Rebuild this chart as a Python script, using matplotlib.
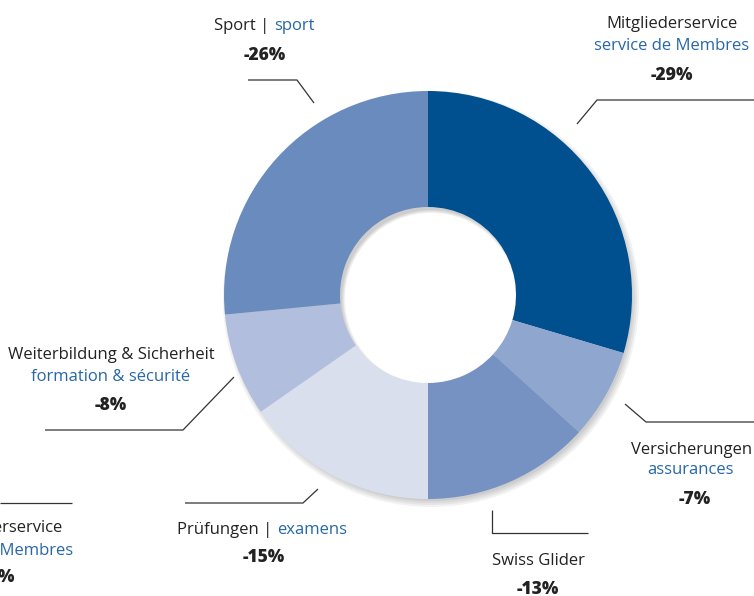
import matplotlib.pyplot as plt
from matplotlib.patches import Wedge

plt.rcParams['font.family'] = ['Open Sans', 'DejaVu Sans']

# data
labels_de = ["Mitgliederservice", "Versicherungen", "Swiss Glider", "Prüfungen", "Weiterbildung & Sicherheit", "Sport"]
labels_fr = ["service de Membres", "assurances", "", "examens", "formation & sécurité", "sport"]
values = [29, 7, 13, 15, 8, 26]
colors = ["#00508F", "#8FA6CF", "#7592C3", "#DADFEE", "#B1BEDD", "#6A8BBD"]

W, H = 754, 596
fig = plt.figure(figsize=(W / 100, H / 100), dpi=100)
ax = fig.add_axes([0, 0, 1, 1])

cx, cy = 428, H - 295
r_out, r_in = 204, 88

# soft shadow
for i in range(4):
    ax.add_patch(Wedge((cx + 3, cy - 4), r_out + 4 - i * 2, 0, 360, width=r_out - r_in + 6 - i * 3,
                       facecolor="#000000", alpha=0.05, edgecolor="none", zorder=1))

ax.pie(values, colors=colors, startangle=90, counterclock=False, center=(cx, cy),
       radius=r_out, wedgeprops=dict(width=r_out - r_in, edgecolor="none"), frame=True)
ax.set_xlim(0, W)
ax.set_ylim(0, H)
ax.set_aspect("auto")
ax.axis("off")

blk = "#222222"
blu = "#2767A8"
fs = 12
fsb = 12.5


def line(xs, ys):
    ax.plot(xs, [H - y for y in ys], color="#333333", lw=0.9, solid_capstyle="butt", clip_on=False)


def txt(x, y, s, c=blk, bold=False, ha="center"):
    ax.text(x, H - y, s, ha=ha, va="center", color=c, fontsize=fsb if bold else fs,
            fontweight="heavy" if bold else "normal", clip_on=False)


# Mitgliederservice
txt(672, 24, labels_de[0])
txt(672, 46, labels_fr[0], blu)
txt(672, 76, "-29%", bold=True)
line([577, 597, 754], [124, 100, 100])

# Versicherungen
txt(692, 450, labels_de[1])
txt(691, 470, labels_fr[1], blu)
txt(695, 499, "-7%", bold=True)
line([625, 646, 754], [404, 422, 422])

# Swiss Glider
txt(538, 561, labels_de[2])
txt(538, 589, "-13%", bold=True)
line([492, 492, 588], [510, 533, 533])

# Prüfungen
txt(272, 530, labels_de[3] + " |", ha="right")
txt(277, 530, labels_fr[3], blu, ha="left")
txt(264, 558, "-15%", bold=True)
line([185, 303, 318], [503, 503, 489])

# Weiterbildung
txt(111, 355, labels_de[4])
txt(111, 377, labels_fr[4], blu)
txt(111, 406, "-8%", bold=True)
line([45, 183, 234], [430, 430, 377])

# Sport
txt(269, 26, labels_de[5] + " |", ha="right")
txt(274, 26, labels_fr[5], blu, ha="left")
txt(265, 55, "-26%", bold=True)
line([248, 297, 314], [80, 80, 103])

# cut-off label at lower left
txt(-3, 528, labels_de[0])
txt(-4, 551, labels_fr[0], blu)
txt(-6, 578, "-29%", bold=True)
line([0, 72], [503, 503])

fig.savefig("out.png", dpi=100)
